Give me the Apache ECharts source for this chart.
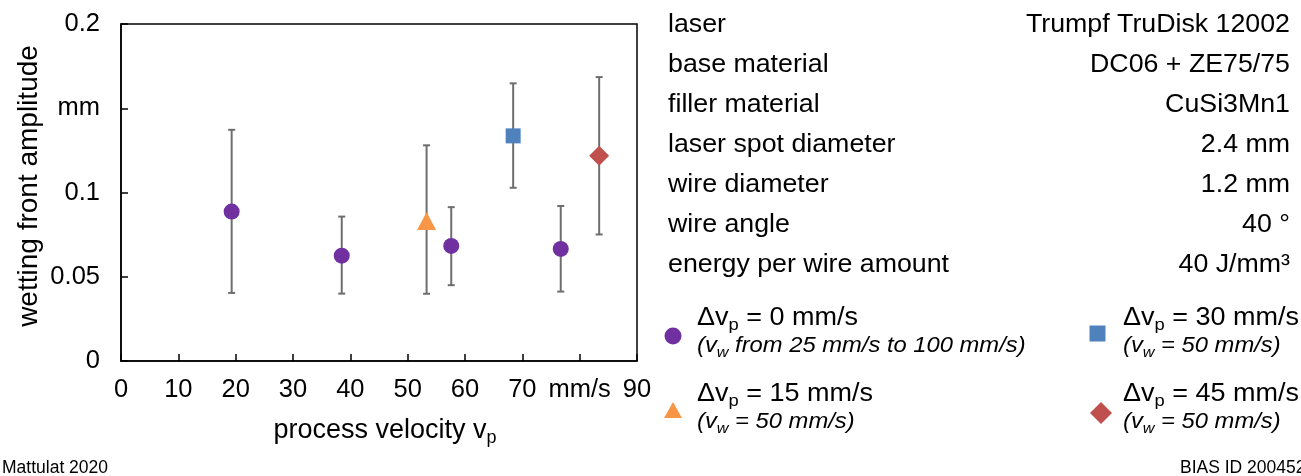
<!DOCTYPE html>
<html>
<head>
<meta charset="utf-8">
<script src="https://cdn.jsdelivr.net/npm/echarts@6/dist/echarts.min.js"></script>
<style>
  html, body { margin: 0; padding: 0; background: #fff; }
  #chart { width: 1301px; height: 476px; }
</style>
</head>
<body>
<div id="chart"></div>
<script>
// ---- data ----
const xTickLabels = ['0', '10', '20', '30', '40', '50', '60', '70', 'mm/s', '90'];
const yTickLabels = ['0', '0.05', '0.1', 'mm', '0.2'];

// Δvp = 0 mm/s (purple circles)
const dv0Velocity = [19.3, 38.5, 57.6, 76.7];
const dv0Amplitude = [0.0887, 0.0625, 0.0683, 0.0665];
const dv0Low = [0.0404, 0.0400, 0.0450, 0.0412];
const dv0High = [0.1372, 0.0857, 0.0913, 0.0920];

// Δvp = 15 mm/s (orange triangle)
const dv15Velocity = [53.3];
const dv15Amplitude = [0.0831];
const dv15Low = [0.0399];
const dv15High = [0.1280];

// Δvp = 30 mm/s (blue square)
const dv30Velocity = [68.4];
const dv30Amplitude = [0.1336];
const dv30Low = [0.1028];
const dv30High = [0.1648];

// Δvp = 45 mm/s (red diamond)
const dv45Velocity = [83.4];
const dv45Amplitude = [0.1218];
const dv45Low = [0.0751];
const dv45High = [0.1685];

const paramLabels = ['laser', 'base material', 'filler material', 'laser spot diameter', 'wire diameter', 'wire angle', 'energy per wire amount'];
const paramValues = ['Trumpf TruDisk 12002', 'DC06 + ZE75/75', 'CuSi3Mn1', '2.4 mm', '1.2 mm', '40 °', '40 J/mm³'];

// ---- helpers ----
const FONT = '"Liberation Sans", Arial, Helvetica, sans-serif';
const COL = { purple: '#7030A0', orange: '#F79646', blue: '#4F81BD', red: '#C0504D' };

function pts(xs, ys) { return xs.map((x, i) => [x, ys[i]]); }
function errs(xs, lo, hi) { return xs.map((x, i) => [x, lo[i], hi[i]]); }

function renderErr(params, api) {
  const x = api.value(0), lo = api.value(1), hi = api.value(2);
  const p1 = api.coord([x, hi]);
  const p2 = api.coord([x, lo]);
  const hw = 3.5;
  const style = { stroke: '#6e6e6e', lineWidth: 2 };
  return {
    type: 'group',
    children: [
      { type: 'line', shape: { x1: p1[0], y1: p1[1], x2: p2[0], y2: p2[1] }, style: style },
      { type: 'line', shape: { x1: p1[0] - hw, y1: p1[1], x2: p1[0] + hw, y2: p1[1] }, style: style },
      { type: 'line', shape: { x1: p2[0] - hw, y1: p2[1], x2: p2[0] + hw, y2: p2[1] }, style: style }
    ]
  };
}

function errSeries(data) {
  return { type: 'custom', renderItem: renderErr, data: data, z: 1, silent: true, encode: { x: 0, y: [1, 2] } };
}
function markSeries(name, data, symbol, size, color) {
  return { name: name, type: 'scatter', data: data, symbol: symbol, symbolSize: size,
           itemStyle: { color: color, opacity: 1 }, z: 5, silent: true };
}

function richMain(fs) {
  return {
    m: { fontFamily: FONT, fontSize: fs, color: '#000', lineHeight: fs + 6, verticalAlign: 'middle' },
    s: { fontFamily: FONT, fontSize: Math.round(fs * 0.66), color: '#000', lineHeight: Math.round(fs * 0.66), verticalAlign: 'bottom' }
  };
}
const richItal = {
  i: { fontFamily: FONT, fontSize: 22, fontStyle: 'italic', color: '#000', lineHeight: 28, verticalAlign: 'middle' },
  s: { fontFamily: FONT, fontSize: 15, fontStyle: 'italic', color: '#000', lineHeight: 14, verticalAlign: 'bottom' }
};

function textEl(x, y, text, opts, sx) {
  return { type: 'text', x: x, y: y, scaleX: sx || 1, silent: true,
    style: Object.assign({ text: text, fontFamily: FONT, fontSize: 25, fill: '#000',
      align: 'left', verticalAlign: 'middle' }, opts || {}) };
}

const graphics = [];
// parameter table
paramLabels.forEach((t, i) => {
  graphics.push(textEl(668, 25 + i * 40, t, null, 1.07));
  graphics.push(textEl(1290, 25 + i * 40, paramValues[i], { align: 'right' }, 1.07));
});
// axis titles
graphics.push({ type: 'text', x: 29, y: 186, rotation: Math.PI / 2, silent: true,
  style: { text: 'wetting front amplitude', fontFamily: FONT, fontSize: 28, fill: '#000', align: 'center', verticalAlign: 'middle' } });
graphics.push({ type: 'text', x: 385, y: 431, silent: true,
  style: { text: '{m|process velocity v}{s|p}', rich: richMain(27), align: 'center', verticalAlign: 'middle' } });
// legend
function legendEntry(x, y, main, ital) {
  graphics.push({ type: 'text', x: x, y: y, scaleX: 1.08, silent: true,
    style: { text: '{m|Δv}{s|p}{m| = ' + main + '}', rich: richMain(25), align: 'left', verticalAlign: 'middle' } });
  graphics.push({ type: 'text', x: x, y: y + 28, scaleX: 1.08, silent: true,
    style: { text: '{i|(v}{s|w}{i|' + ital + ')}', rich: richItal, align: 'left', verticalAlign: 'middle' } });
}
legendEntry(697, 318, '0 mm/s', ' from 25 mm/s to 100 mm/s');
legendEntry(697, 394, '15 mm/s', ' = 50 mm/s');
legendEntry(1123, 318, '30 mm/s', ' = 50 mm/s');
legendEntry(1123, 394, '45 mm/s', ' = 50 mm/s');
graphics.push({ type: 'circle', shape: { cx: 673, cy: 336, r: 8.5 }, style: { fill: COL.purple }, silent: true });
graphics.push({ type: 'polygon', shape: { points: [[673, 402], [682, 418], [664, 418]] }, style: { fill: COL.orange }, silent: true });
graphics.push({ type: 'rect', shape: { x: 1089.5, y: 325.5, width: 16, height: 16 }, style: { fill: COL.blue }, silent: true });
graphics.push({ type: 'polygon', shape: { points: [[1101, 402], [1112, 413], [1101, 424], [1090, 413]] }, style: { fill: COL.red }, silent: true });
// footer
graphics.push(textEl(2, 468, 'Mattulat 2020', { fontSize: 17.5 }));
graphics.push(textEl(1180, 468, 'BIAS ID 200452', { fontSize: 17.5 }));

const chart = echarts.init(document.getElementById('chart'), null, { renderer: 'canvas' });
chart.setOption({
  animation: false,
  backgroundColor: '#fff',
  grid: { left: 121, right: 664, top: 24, bottom: 115, show: true, borderColor: '#000', borderWidth: 1.5, backgroundColor: 'transparent' },
  xAxis: {
    type: 'value', min: 0, max: 90, interval: 10,
    axisLine: { show: true, lineStyle: { color: '#000', width: 1.5 } },
    axisTick: { show: true, inside: true, length: 7, lineStyle: { color: '#000', width: 1.5 } },
    splitLine: { show: false },
    axisLabel: { fontFamily: FONT, fontSize: 25.5, color: '#000', margin: 16, showMinLabel: true, showMaxLabel: true,
      formatter: v => xTickLabels[Math.round(v / 10)] }
  },
  yAxis: {
    type: 'value', min: 0, max: 0.2, interval: 0.05,
    axisLine: { show: true, lineStyle: { color: '#000', width: 1.5 } },
    axisTick: { show: true, inside: true, length: 7, lineStyle: { color: '#000', width: 1.5 } },
    splitLine: { show: false },
    axisLabel: { fontFamily: FONT, fontSize: 25.5, color: '#000', margin: 21, showMinLabel: true, showMaxLabel: true,
      formatter: v => yTickLabels[Math.round(v / 0.05)] }
  },
  series: [
    errSeries(errs(dv0Velocity, dv0Low, dv0High)),
    errSeries(errs(dv15Velocity, dv15Low, dv15High)),
    errSeries(errs(dv30Velocity, dv30Low, dv30High)),
    errSeries(errs(dv45Velocity, dv45Low, dv45High)),
    markSeries('Δvp = 0 mm/s', pts(dv0Velocity, dv0Amplitude), 'circle', 16, COL.purple),
    markSeries('Δvp = 15 mm/s', pts(dv15Velocity, dv15Amplitude), 'triangle', [19, 18], COL.orange),
    markSeries('Δvp = 30 mm/s', pts(dv30Velocity, dv30Amplitude), 'rect', 15, COL.blue),
    markSeries('Δvp = 45 mm/s', pts(dv45Velocity, dv45Amplitude), 'diamond', [20, 20], COL.red)
  ],
  graphic: { elements: graphics }
});
</script>
</body>
</html>
